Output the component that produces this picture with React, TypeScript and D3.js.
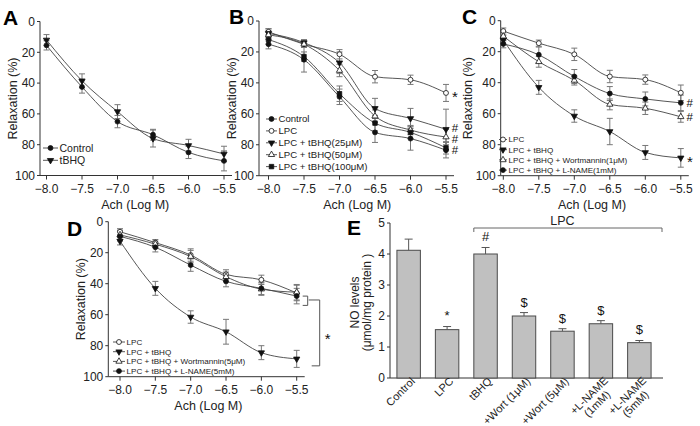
import * as d3 from "d3";

// Ach doses (log M) shared by panels A–D
const doses = [-8.0, -7.5, -7.0, -6.5, -6.0, -5.5];
const relaxTicks = [0, 20, 40, 60, 80, 100];

// Panel A
const aControl = [15.5, 42.5, 65, 73.5, 85, 90.5];
const aControlErr = [3, 4, 4, 3.5, 4, 6.5];
const aTbhq = [12, 38.5, 58.5, 76, 80.5, 86];
const aTbhqErr = [3.5, 4.5, 4.5, 5.5, 4, 5];

// Panel B
const bControl = [15, 25, 49, 72, 76, 83.5];
const bControlErr = [3, 8, 5, 6.5, 7.5, 5];
const bLpc = [7, 15, 21.5, 36, 38, 46.5];
const bLpcErr = [2, 2, 3, 4, 3, 5.5];
const bT25 = [8, 14, 27, 56.5, 63, 70];
const bT25Err = [3, 2, 7, 6.5, 6.5, 13];
const bT50 = [9, 15, 32, 61.5, 70.5, 75];
const bT50Err = [3, 2, 4, 4, 3, 5];
const bT100 = [12, 23, 47, 66, 72, 82];
const bT100Err = [3, 3, 5, 5, 4, 4];

// Panel C
const cLpc = [6.7, 14.5, 21.7, 36, 38, 46.5];
const cLpcErr = [2, 2, 4, 4, 3, 5];
const cTbhq = [12.5, 43, 61.5, 71.5, 85, 88.5];
const cTbhqErr = [3, 4.5, 4, 8.5, 4.5, 6];
const cWort = [10, 26.5, 38.5, 54, 56.5, 62];
const cWortErr = [3, 3.5, 3, 3.5, 4, 3.5];
const cLname = [15, 22, 36, 47, 50.5, 53];
const cLnameErr = [2.5, 5, 4.5, 4.5, 4.5, 5];

// Panel D
const dLpc = [6.5, 13.5, 21.5, 34, 37.5, 46];
const dLpcErr = [2, 2, 4, 3, 3, 5];
const dTbhq = [12.5, 43, 61.5, 71, 84.5, 88.5];
const dTbhqErr = [2.5, 4.5, 4, 8, 4.5, 5.5];
const dWort = [8.5, 14.5, 22.5, 35.5, 43.5, 45.5];
const dWortErr = [3, 2, 4, 3, 4, 5];
const dLname = [9.5, 16.5, 28, 38.5, 43, 48];
const dLnameErr = [3, 3, 4, 3.5, 4, 5];

// Panel E
const eLabels = ["Control", "LPC", "tBHQ", "+Wort (1μM)", "+Wort (5μM)", "+L-NAME\n(1mM)", "+L-NAME\n(5mM)"];
const eValues = [4.12, 1.56, 4.0, 2.0, 1.51, 1.75, 1.14];
const eErrors = [0.36, 0.1, 0.21, 0.11, 0.08, 0.1, 0.07];
const eMarks = ["", "*", "#", "$", "$", "$", "$"];
const eTicks = [0, 1, 2, 3, 4, 5];

const FONT = "'Liberation Sans', Arial, sans-serif";
const INK = "#222";

type Kind = "dot" | "ring" | "down" | "upOpen" | "square";

function Marker({ kind, x, y }: { kind: Kind; x: number; y: number }) {
  const type = kind === "square" ? d3.symbolSquare : kind === "down" || kind === "upOpen" ? d3.symbolTriangle : d3.symbolCircle;
  const size = kind === "square" ? 20 : kind === "dot" || kind === "ring" ? 19 : 17;
  const d = d3.symbol().type(type).size(size)() as string;
  const open = kind === "ring" || kind === "upOpen";
  const rot = kind === "down" ? " rotate(180)" : "";
  return (
    <path d={d} transform={`translate(${x},${y})${rot}`} fill={open ? "#fff" : "#111"} stroke="#111" strokeWidth={0.8} />
  );
}

type Series = { name: string; values: number[]; errors: number[]; kind: Kind };
type Note = { text: string; value: number };

type PanelCfg = {
  letter: string; letterX: number; letterY: number;
  axisX: number; xStart: number; xEnd: number; yTop: number; yBottom: number;
  labelX: number;
  series: Series[];
  legend: { x: number; y: number; step: number; len: number; size: number };
  notes: Note[];
};

function LinePanel({ p, children }: { p: PanelCfg; children?: (x: any, y: any) => any }) {
  const x = d3.scaleLinear().domain([-8, -5.5]).range([p.xStart, p.xEnd]);
  const y = d3.scaleLinear().domain([0, 100]).range([p.yTop, p.yBottom]);
  const line = d3.line<number>().x((_, i) => x(doses[i])).y(v => y(v)).curve(d3.curveMonotoneX);
  const axisEnd = p.xEnd + 8;
  return (
    <g>
      <text x={p.letterX} y={p.letterY} fontSize={21} fontWeight="bold" fill="#000">{p.letter}</text>
      {/* axes */}
      <line x1={p.axisX} x2={p.axisX} y1={y(0)} y2={y(100)} stroke="#333" />
      <line x1={p.axisX} x2={axisEnd} y1={y(100)} y2={y(100)} stroke="#333" />
      {relaxTicks.map(t => (
        <g key={t}>
          <line x1={p.axisX - 3} x2={p.axisX} y1={y(t)} y2={y(t)} stroke="#333" />
          <text x={p.axisX - 5} y={y(t)} dy="0.35em" textAnchor="end" fontSize={12} fill={INK}>{t}</text>
        </g>
      ))}
      {doses.map(d => (
        <g key={d}>
          <line x1={x(d)} x2={x(d)} y1={y(100)} y2={y(100) + 4} stroke="#333" />
          <text x={x(d)} y={y(100) + 17} textAnchor="middle" fontSize={12} fill={INK}>{d3.format(".1f")(d)}</text>
        </g>
      ))}
      <text x={(p.xStart + p.xEnd) / 2} y={y(100) + 33} textAnchor="middle" fontSize={12.5} fill={INK}>Ach (Log M)</text>
      <text transform={`translate(${p.labelX},${(y(0) + y(100)) / 2}) rotate(-90)`} textAnchor="middle" fontSize={12.5} fill={INK}>Relaxation (%)</text>
      {/* curves */}
      {p.series.map(s => (
        <path key={s.name} d={line(s.values) as string} fill="none" stroke="#444" strokeWidth={0.9} />
      ))}
      {p.series.map(s => s.values.map((v, i) => (
        <g key={s.name + i} stroke="#777" strokeWidth={1}>
          <line x1={x(doses[i])} x2={x(doses[i])} y1={y(v - s.errors[i])} y2={y(v + s.errors[i])} />
          <line x1={x(doses[i]) - 3} x2={x(doses[i]) + 3} y1={y(v - s.errors[i])} y2={y(v - s.errors[i])} />
          <line x1={x(doses[i]) - 3} x2={x(doses[i]) + 3} y1={y(v + s.errors[i])} y2={y(v + s.errors[i])} />
        </g>
      )))}
      {p.series.map(s => s.values.map((v, i) => (
        <Marker key={s.name + "m" + i} kind={s.kind} x={x(doses[i])} y={y(v)} />
      )))}
      {/* significance marks */}
      {p.notes.map((n, i) => (
        <text key={i} x={x(-5.5) + 9} y={y(n.value) + (n.text === "*" ? 9 : 4)} textAnchor="middle" fontSize={n.text === "*" ? 15 : 11.5} fill="#111">{n.text}</text>
      ))}
      {/* legend */}
      {p.series.map((s, i) => {
        const ly = p.legend.y + i * p.legend.step;
        return (
          <g key={"lg" + s.name}>
            <line x1={p.legend.x} x2={p.legend.x + p.legend.len} y1={ly} y2={ly} stroke="#444" strokeWidth={0.9} />
            <Marker kind={s.kind} x={p.legend.x + p.legend.len / 2} y={ly} />
            <text x={p.legend.x + p.legend.len + 1.5} y={ly} dy="0.35em" fontSize={p.legend.size} fill={INK}>{s.name}</text>
          </g>
        );
      })}
      {children && children(x, y)}
    </g>
  );
}

const panelA: PanelCfg = {
  letter: "A", letterX: 3, letterY: 25, axisX: 40, xStart: 46.5, xEnd: 224, yTop: 21.5, yBottom: 175.5, labelX: 17,
  series: [
    { name: "Control", values: aControl, errors: aControlErr, kind: "dot" },
    { name: "tBHQ", values: aTbhq, errors: aTbhqErr, kind: "down" },
  ],
  legend: { x: 43, y: 148, step: 12.3, len: 15, size: 10.5 },
  notes: [],
};

const panelB: PanelCfg = {
  letter: "B", letterX: 229, letterY: 24, axisX: 259, xStart: 268.5, xEnd: 446, yTop: 21, yBottom: 175.7, labelX: 236,
  series: [
    { name: "Control", values: bControl, errors: bControlErr, kind: "dot" },
    { name: "LPC", values: bLpc, errors: bLpcErr, kind: "ring" },
    { name: "LPC + tBHQ(25μM)", values: bT25, errors: bT25Err, kind: "down" },
    { name: "LPC + tBHQ(50μM)", values: bT50, errors: bT50Err, kind: "upOpen" },
    { name: "LPC + tBHQ(100μM)", values: bT100, errors: bT100Err, kind: "square" },
  ],
  legend: { x: 266, y: 119, step: 11.9, len: 11, size: 9.6 },
  notes: [
    { text: "*", value: 46.5 },
    { text: "#", value: 69 },
    { text: "#", value: 76 },
    { text: "#", value: 83.5 },
  ],
};

const panelC: PanelCfg = {
  letter: "C", letterX: 462, letterY: 24, axisX: 500.7, xStart: 503.3, xEnd: 680.8, yTop: 20.7, yBottom: 175.7, labelX: 472,
  series: [
    { name: "LPC", values: cLpc, errors: cLpcErr, kind: "ring" },
    { name: "LPC + tBHQ", values: cTbhq, errors: cTbhqErr, kind: "down" },
    { name: "LPC + tBHQ + Wortmannin(1μM)", values: cWort, errors: cWortErr, kind: "upOpen" },
    { name: "LPC + tBHQ + L-NAME(1mM)", values: cLname, errors: cLnameErr, kind: "dot" },
  ],
  legend: { x: 499, y: 139.5, step: 10.2, len: 8, size: 8.1 },
  notes: [
    { text: "#", value: 53 },
    { text: "#", value: 62 },
    { text: "*", value: 88.5 },
  ],
};

const panelD: PanelCfg = {
  letter: "D", letterX: 67, letterY: 236, axisX: 108.3, xStart: 120, xEnd: 296.7, yTop: 221.7, yBottom: 376.7, labelX: 85,
  series: [
    { name: "LPC", values: dLpc, errors: dLpcErr, kind: "ring" },
    { name: "LPC + tBHQ", values: dTbhq, errors: dTbhqErr, kind: "down" },
    { name: "LPC + tBHQ + Wortmannin(5μM)", values: dWort, errors: dWortErr, kind: "upOpen" },
    { name: "LPC + tBHQ + L-NAME(5mM)", values: dLname, errors: dLnameErr, kind: "dot" },
  ],
  legend: { x: 113, y: 342, step: 9.7, len: 12, size: 8.1 },
  notes: [],
};

function BarPanel() {
  const x = d3.scaleBand<string>().domain(eLabels).range([390, 658]).paddingInner(0.39).paddingOuter(0.18);
  const y = d3.scaleLinear().domain([0, 5]).range([378, 223]);
  const axisX = 390;
  const bw = x.bandwidth();
  const lpcStart = x("tBHQ") as number;
  const lpcMid = (lpcStart + (x(eLabels[6]) as number) + bw) / 2;
  return (
    <g>
      <text x={347} y={235} fontSize={21} fontWeight="bold" fill="#000">E</text>
      <line x1={axisX} x2={axisX} y1={y(0)} y2={y(5)} stroke="#333" />
      <line x1={axisX} x2={663} y1={y(0)} y2={y(0)} stroke="#333" />
      {eTicks.map(t => (
        <g key={t}>
          <line x1={axisX - 3} x2={axisX} y1={y(t)} y2={y(t)} stroke="#333" />
          <text x={axisX - 5} y={y(t)} dy="0.35em" textAnchor="end" fontSize={12} fill={INK}>{t}</text>
        </g>
      ))}
      <g transform={`translate(359,${(y(0) + y(5)) / 2 + 2}) rotate(-90)`}>
        <text textAnchor="middle" fontSize={12} fill={INK}>NO levels</text>
        <text y={12} textAnchor="middle" fontSize={12} fill={INK}>(μmol/mg protein )</text>
      </g>
      {eLabels.map((lab, i) => {
        const bx = x(lab) as number;
        const cx = bx + bw / 2;
        const top = y(eValues[i] + eErrors[i]);
        const parts = lab.split("\n");
        return (
          <g key={lab}>
            <rect x={bx} y={y(eValues[i])} width={bw} height={y(0) - y(eValues[i])} fill="#c0c0c0" stroke="#4a4a4a" strokeWidth={1} />
            <line x1={cx} x2={cx} y1={y(eValues[i])} y2={top} stroke="#555" />
            <line x1={cx - 4} x2={cx + 4} y1={top} y2={top} stroke="#555" />
            {eMarks[i] && (
              <text x={cx} y={top - (eMarks[i] === "*" ? 7 : 6)} textAnchor="middle" fontSize={13} fill="#111">{eMarks[i]}</text>
            )}
            <g transform={`translate(${cx + 7},${y(0) + 4}) rotate(-45)`}>
              {parts.length === 1 ? (
                <text textAnchor="end" fontSize={11} fill={INK}>{lab}</text>
              ) : (
                parts.map((part, k) => (
                  <text key={k} x={-23} y={k * 11.5} textAnchor="middle" fontSize={11} fill={INK}>{part}</text>
                ))
              )}
            </g>
          </g>
        );
      })}
      {/* LPC bracket */}
      <path d={`M${lpcStart},${232} V${228} H662 V${232}`} fill="none" stroke="#666" />
      <text x={lpcMid} y={225} textAnchor="middle" fontSize={12.5} fill={INK}>LPC</text>
    </g>
  );
}

export default function App() {
  return (
    <div style={{ position: "absolute", left: 0, top: 0 }}>
      <svg width={700} height={426} style={{ display: "block", background: "#fff", fontFamily: FONT }}>
        <LinePanel p={panelA} />
        <LinePanel p={panelB} />
        <LinePanel p={panelC} />
        <LinePanel p={panelD}>
          {(x: any, y: any) => {
            const bx = x(-5.5);
            return (
              <g>
                <path d={`M${bx + 6},${y(48)} H${bx + 11} V${y(54)} H${bx + 6}`} fill="none" stroke="#555" />
                <path d={`M${bx + 12},${y(50.5)} H${bx + 23} V${y(93)} H${bx + 15}`} fill="none" stroke="#555" />
                <text x={bx + 31} y={y(73) + 9} textAnchor="middle" fontSize={15} fill="#111">*</text>
              </g>
            );
          }}
        </LinePanel>
        <BarPanel />
      </svg>
    </div>
  );
}
